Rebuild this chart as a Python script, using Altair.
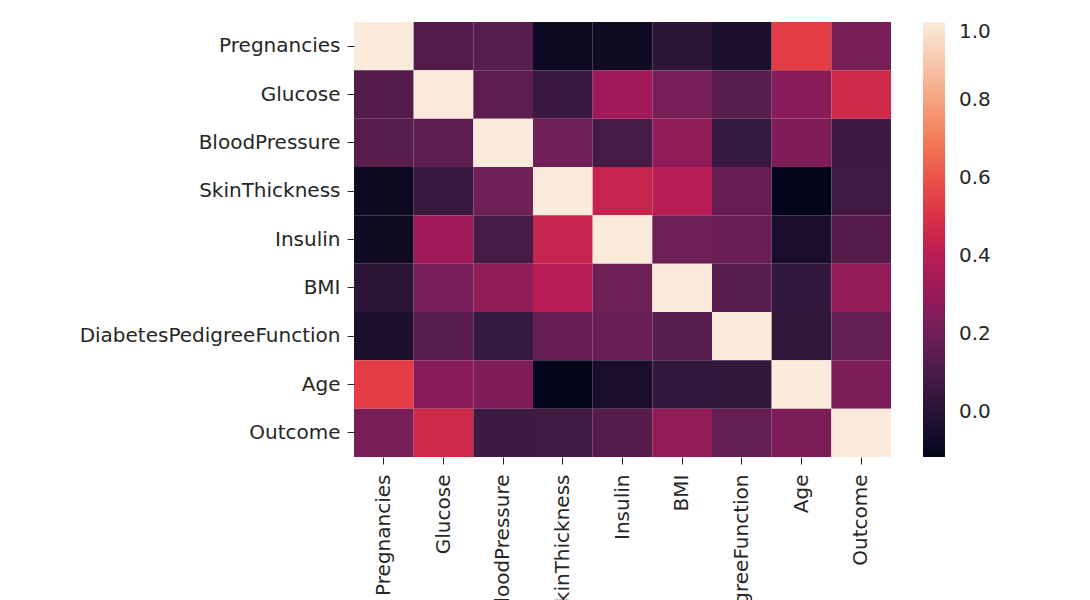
import altair as alt
import pandas as pd

variables = ["Pregnancies", "Glucose", "BloodPressure", "SkinThickness", "Insulin",
             "BMI", "DiabetesPedigreeFunction", "Age", "Outcome"]

corr_pregnancies = [1.000, 0.129, 0.141, -0.082, -0.074, 0.018, -0.034, 0.544, 0.222]
corr_glucose = [0.129, 1.000, 0.153, 0.057, 0.331, 0.221, 0.137, 0.264, 0.467]
corr_bloodpressure = [0.141, 0.153, 1.000, 0.207, 0.089, 0.282, 0.041, 0.240, 0.065]
corr_skinthickness = [-0.082, 0.057, 0.207, 1.000, 0.437, 0.393, 0.184, -0.114, 0.075]
corr_insulin = [-0.074, 0.331, 0.089, 0.437, 1.000, 0.198, 0.185, -0.042, 0.131]
corr_bmi = [0.018, 0.221, 0.282, 0.393, 0.198, 1.000, 0.141, 0.036, 0.293]
corr_dpf = [-0.034, 0.137, 0.041, 0.184, 0.185, 0.141, 1.000, 0.034, 0.174]
corr_age = [0.544, 0.264, 0.240, -0.114, -0.042, 0.036, 0.034, 1.000, 0.238]
corr_outcome = [0.222, 0.467, 0.065, 0.075, 0.131, 0.293, 0.174, 0.238, 1.000]

rows = [corr_pregnancies, corr_glucose, corr_bloodpressure, corr_skinthickness,
        corr_insulin, corr_bmi, corr_dpf, corr_age, corr_outcome]

colorbar_ticks = [0.0, 0.2, 0.4, 0.6, 0.8, 1.0]

# seaborn "rocket" colormap stops
rocket = ["#03051a", "#35193e", "#701f57", "#ad1759", "#e13342", "#f37651", "#f6b48f", "#faebdd"]

records = []
for rname, vals in zip(variables, rows):
    for cname, v in zip(variables, vals):
        records.append({"row": rname, "col": cname, "value": v})
df = pd.DataFrame(records)

FONT = "DejaVu Sans"
FS = 20

vmin = min(min(r) for r in rows)

chart = alt.Chart(df).mark_rect(strokeWidth=0).encode(
    x=alt.X("col:N", sort=variables, title=None,
            axis=alt.Axis(labelAngle=-90, labelFontSize=FS, labelFont=FONT, labelColor="#262626",
                          domain=False, ticks=True, tickSize=7, tickColor="#262626",
                          labelPadding=10, labelLimit=0, labelBaseline="middle")),
    y=alt.Y("row:N", sort=variables, title=None,
            axis=alt.Axis(labelFontSize=FS, labelFont=FONT, labelColor="#262626",
                          domain=False, ticks=True, tickSize=7, tickColor="#262626",
                          labelPadding=7, labelLimit=0)),
    color=alt.Color("value:Q",
                    scale=alt.Scale(domain=[vmin, 1.0], range=rocket, interpolate="rgb"),
                    legend=alt.Legend(title=None, gradientLength=435, gradientThickness=22,
                                      offset=32, values=colorbar_ticks, format=".1f",
                                      labelFontSize=FS, labelFont=FONT, labelColor="#262626",
                                      labelOffset=14, gradientStrokeWidth=0)),
).properties(
    width=537, height=435,
    padding={"left": 71, "top": 14, "right": 5, "bottom": 5},
).configure_view(stroke=None).configure_scale(bandPaddingInner=0)

chart.save("out.html", embed_options={"renderer": "svg", "actions": False})
